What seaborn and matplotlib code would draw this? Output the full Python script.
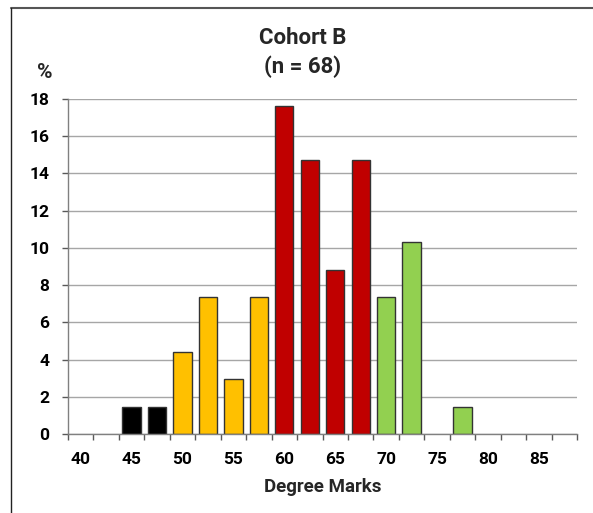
import matplotlib
matplotlib.use("Agg")
import matplotlib.pyplot as plt
from matplotlib.lines import Line2D
import seaborn as sns
import pandas as pd
import numpy as np

# ---- data ----
categories = ["40", "42.5", "45", "47.5", "50", "52.5", "55", "57.5", "60", "62.5",
              "65", "67.5", "70", "72.5", "75", "77.5", "80", "82.5", "85", "87.5"]
marks = ["45", "47.5", "50", "52.5", "55", "57.5", "60", "62.5", "65", "67.5",
         "70", "72.5", "77.5"]
percent = [1.47, 1.47, 4.41, 7.35, 2.94, 7.35, 17.65, 14.71, 8.82, 14.71,
           7.35, 10.29, 1.47]
band = ["Fail", "Fail", "Third", "Third", "Third", "Third", "2:1", "2:1", "2:1", "2:1",
        "First", "First", "First"]
band_colors = {"Fail": "#000000", "Third": "#FFC000", "2:1": "#C00000", "First": "#92D050"}
tick_labels = ["40", "45", "50", "55", "60", "65", "70", "75", "80", "85"]
title_line1 = "Cohort B"
title_line2 = "(n = 68)"

df = pd.DataFrame({"mark": marks, "percent": percent, "band": band})

sns.set_theme(style="white")
plt.rcParams["font.family"] = ["Roboto", "DejaVu Sans"]
plt.rcParams["font.weight"] = "bold"

fig = plt.figure(figsize=(5.93, 5.13), dpi=100)
ax = fig.add_axes([68 / 593, 1 - 434 / 513, (577 - 68) / 593, (434 - 99) / 513])

sns.barplot(data=df, x="mark", y="percent", hue="band", order=categories,
            palette=band_colors, dodge=False, legend=False, width=0.72,
            edgecolor="#333333", linewidth=1.0, saturation=1, ax=ax, zorder=3)

ax.set_xlim(-0.5, len(categories) - 0.5)
ax.set_ylim(0, 18)
ax.set_yticks(np.arange(0, 19, 2))
ax.set_yticklabels([str(v) for v in range(0, 19, 2)], fontsize=12.5, fontweight="bold")
ax.set_xticks(np.arange(0, len(categories), 2))
ax.set_xticklabels(tick_labels, fontsize=12.5, fontweight="bold")
ax.set_xticks(np.arange(-0.5, len(categories), 1), minor=True)
ax.tick_params(axis="x", which="major", length=0, pad=13, colors="black")
ax.tick_params(axis="x", which="minor", length=4.5, width=1, color="#595959",
               direction="out", bottom=True)
ax.tick_params(axis="y", which="major", length=4.5, width=1, color="#595959",
               direction="out", left=True, pad=9, labelcolor="black")

ax.yaxis.grid(True, color="#A6A6A6", linewidth=1.0, zorder=0)
ax.xaxis.grid(False)
ax.set_axisbelow(True)
for s in ["top", "right"]:
    ax.spines[s].set_visible(False)
for s in ["left", "bottom"]:
    ax.spines[s].set_color("#808080")
    ax.spines[s].set_linewidth(1.0)
    ax.spines[s].set_zorder(4)

ax.set_ylabel("")
ax.set_xlabel("Degree Marks", fontsize=13.5, fontweight="bold", labelpad=8)

fig.text(303 / 593, 1 - 38 / 513, title_line1, ha="center", va="center",
         fontsize=16, fontweight="bold")
fig.text(303 / 593, 1 - 67 / 513, title_line2, ha="center", va="center",
         fontsize=16, fontweight="bold")
fig.text(45 / 593, 1 - 72 / 513, "%", ha="center", va="center",
         fontsize=15, fontweight="bold")

# chart border (top and left visible)
fig.add_artist(Line2D([11 / 593, 1.0], [1 - 7.5 / 513, 1 - 7.5 / 513],
                      transform=fig.transFigure, color="#555555", linewidth=1.5))
fig.add_artist(Line2D([11 / 593, 11 / 593], [0, 1 - 7.5 / 513],
                      transform=fig.transFigure, color="#222222", linewidth=1.0))

fig.savefig("out.png", dpi=100, facecolor="white")
